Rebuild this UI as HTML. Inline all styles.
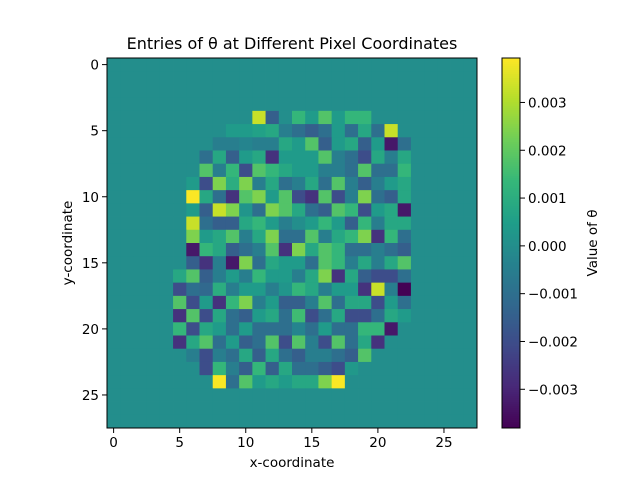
<!DOCTYPE html>
<html><head><meta charset="utf-8"><style>
html,body{margin:0;padding:0;background:#fff;}
svg{display:block;font-family:"DejaVu Sans","Liberation Sans",sans-serif;}
</style></head><body>
<svg id="chart" width="640" height="480" viewBox="0 0 640 480" xmlns="http://www.w3.org/2000/svg">
<rect width="640" height="480" fill="#fff"/>
<text x="292" y="49" font-size="16" text-anchor="middle">Entries of θ at Different Pixel Coordinates</text>
<g id="cells"></g>
<rect x="107" y="58" width="370" height="370" fill="none" stroke="#000" stroke-width="1"/>
<g id="xticks"></g>
<g id="yticks"></g>
<text x="292" y="467" font-size="13.5" text-anchor="middle">x-coordinate</text>
<text transform="translate(72,243) rotate(-90)" font-size="13.5" text-anchor="middle">y-coordinate</text>
<g id="cbar"></g>
<text transform="translate(597,243) rotate(-90)" font-size="13.5" text-anchor="middle">Value of θ</text>
</svg>
<script>
const gridSize = 28;
const colOffset = 5;
const rowOffset = 4;
// values in units of 1e-3, rows 4..24, cols 5..22
const values = [
[0,0,0,0,0,0,3.3,-1.5,0,1.3,0.4,1.8,0.4,1.3,1.3,0,0,0],
[0,0,0,0,0.4,0.4,0.6,0.8,-0.5,-1.0,-1.5,-1.0,0.4,-1.0,0.8,-1.0,3.3,0],
[0,0,0,-0.5,-0.5,-0.3,-0.5,-0.5,0.8,0.4,1.8,-1.5,0.4,0.8,-1.5,0.4,-3.3,-1.0],
[0,0,-1.0,0.8,-1.5,0.4,0.8,-2.7,0.4,0.4,0.4,1.8,-0.5,-1.0,-2.0,0.8,-0.5,0.8],
[0,0,1.8,-0.5,1.3,-2.0,1.8,1.3,0.8,0.4,0.4,-0.5,-0.5,-1.0,1.8,-1.0,-1.0,1.3],
[0,0.4,-2.0,2.4,1.0,2.4,-0.5,0.8,-1.0,-0.5,0.8,-1.0,1.8,-0.5,-1.5,-0.5,0.4,0.8],
[0,3.9,0.8,-1.0,-2.7,1.8,2.4,0.4,1.8,-2.0,-2.7,1.8,-2.0,-0.5,2.4,-1.0,-1.5,0.8],
[0,0.4,-1.5,3.3,2.4,0.2,-1.0,2.4,1.8,0.8,-1.0,-1.5,1.8,1.3,-2.0,0.4,0.8,-3.3],
[0,3.3,-1.0,-1.5,-1.5,0.8,1.3,0.4,-0.5,0,0.4,1.3,0.4,-1.5,1.3,-0.5,0.8,0.8],
[0,2.4,0.4,0.8,1.8,-0.5,0.8,2.4,-1.0,-1.0,1.8,-0.5,0.8,1.3,2.4,-2.7,1.3,-1.0],
[0,-3.3,1.3,0.8,-1.5,-1.0,-0.5,1.8,-2.7,2.4,0.8,1.8,1.3,-1.0,-1.0,-0.5,-1.0,-1.5],
[0,-1.5,-2.7,-0.5,-3.3,2.4,-1.0,0.8,0.4,0.4,-1.0,1.8,1.3,-0.5,0.8,-0.5,0.8,1.8],
[0.8,1.8,-1.5,-0.5,0.4,-0.5,1.3,0.4,0.4,-0.5,0.8,2.4,-2.7,0.8,-1.5,-2.0,-2.0,-1.0],
[-2.0,-1.0,-1.2,1.0,-0.5,0.4,0.4,-0.5,0.2,1.3,0.8,-0.5,0.4,0.4,-2.7,3.3,-0.5,-3.8],
[1.8,-2.0,0.4,-2.7,1.3,2.4,-0.5,0.4,-1.5,-1.5,-0.5,1.8,-1.0,0.8,0.8,-2.0,0.4,-1.0],
[-2.7,1.8,-2.0,0.8,-1.0,-1.5,0.4,0.8,-1.0,1.5,-2.0,-1.0,0.8,-2.0,-2.0,-1.0,0.8,0.4],
[1.3,-2.0,0.8,0.4,-1.0,0.4,-1.0,-1.0,-1.0,-0.3,-1.0,0.4,-1.0,-1.0,1.3,1.3,-3.3,0],
[-2.7,0.8,1.8,-1.0,0.4,-1.5,-1.0,1.8,-2.0,1.8,-0.5,-2.0,1.8,-1.0,0.8,-2.7,0,0],
[0,-0.5,-2.0,-0.5,-1.0,0.8,-1.5,0.8,-1.0,-1.5,-0.5,-0.5,-1.0,-1.5,1.8,0,0,0],
[0,0,-2.0,1.3,-0.5,-1.5,1.3,-1.5,0.8,-1.0,-1.0,-1.5,-2.0,0.3,0,0,0,0],
[0,0,0,3.9,-1.0,1.8,0.4,0.8,0.4,0.8,0.8,2.4,3.9,0,0,0,0,0]
];
const xTicks = [0,5,10,15,20,25];
const yTicks = [0,5,10,15,20,25];
const cbarTicks = [-3,-2,-1,0,1,2,3];
const cbarLabels = ["−0.003","−0.002","−0.001","0.000","0.001","0.002","0.003"];
const vmin = -3.81, vmax = 3.93;

const NS = "http://www.w3.org/2000/svg";
const L = 107, T = 58, S = 370, cell = S / gridSize;
const xPos = v => L + (v + 0.5) * cell;
const yPos = v => T + (v + 0.5) * cell;
const stops = ["#440154","#482878","#3e4a89","#31688e","#26828e","#1f9e89","#35b779","#6ece58","#b5de2b","#fde725"];
function hex(h){return [1,3,5].map(i=>parseInt(h.substr(i,2),16));}
function viridis(v){
  let t = (v - vmin) / (vmax - vmin); t = Math.max(0, Math.min(1, t));
  const f = t * (stops.length - 1), i = Math.min(stops.length - 2, Math.floor(f)), u = f - i;
  const a = hex(stops[i]), b = hex(stops[i+1]);
  return "rgb(" + a.map((c,k)=>Math.round(c + (b[k]-c)*u)).join(",") + ")";
}
function mk(tag, attrs, parent){const e=document.createElementNS(NS,tag);for(const k in attrs)e.setAttribute(k,attrs[k]);parent.appendChild(e);return e;}

const cells = document.getElementById("cells");
for (let r = 0; r < gridSize; r++) {
  for (let c = 0; c < gridSize; c++) {
    const rr = r - rowOffset, cc = c - colOffset;
    let v = 0;
    if (rr >= 0 && rr < values.length && cc >= 0 && cc < values[rr].length) v = values[rr][cc];
    const e = mk("rect", {x: (L + c*cell).toFixed(2), y: (T + r*cell).toFixed(2), width: (cell+0.4).toFixed(2), height: (cell+0.4).toFixed(2), fill: viridis(v)}, cells);
    
    
  }
}
const xg = document.getElementById("xticks");
xTicks.forEach(v => {
  const x = xPos(v);
  const l = mk("line", {x1:x, x2:x, y1:428, y2:433, stroke:"#000"}, xg);
  
  
  const t = mk("text", {x:x, y:447, "font-size":"13.5", "text-anchor":"middle"}, xg);
  
  
  t.textContent = v;
});
const yg = document.getElementById("yticks");
yTicks.forEach(v => {
  const y = yPos(v);
  const l = mk("line", {x1:102, x2:107, y1:y, y2:y, stroke:"#000"}, yg);
  
  
  const t = mk("text", {x:99, y:y+5, "font-size":"13.5", "text-anchor":"end"}, yg);
  
  
  t.textContent = v;
});
const cb = document.getElementById("cbar");
const cbL = 502, cbW = 18, cbT = 58, cbH = 370;
const cbY = v => cbT + (vmax - v) / (vmax - vmin) * cbH;
const N = 185;
for (let i = 0; i < N; i++) {
  const v = vmax - (i + 0.5) / N * (vmax - vmin);
  const e = mk("rect", {x:cbL, y:(cbT + i*cbH/N).toFixed(2), width:cbW, height:(cbH/N+0.5).toFixed(2), fill:viridis(v)}, cb);
  
  
}
const fr = mk("rect", {x:cbL, y:cbT, width:cbW, height:cbH, fill:"none", stroke:"#000"}, cb);


cbarTicks.forEach((v, i) => {
  const y = cbY(v);
  const l = mk("line", {x1:cbL+cbW, x2:cbL+cbW+5, y1:y, y2:y, stroke:"#000"}, cb);
  
  
  const t = mk("text", {x:cbL+cbW+8, y:y+5, "font-size":"13.5"}, cb);
  
  
  t.textContent = cbarLabels[i];
});
</script>
</body></html>
